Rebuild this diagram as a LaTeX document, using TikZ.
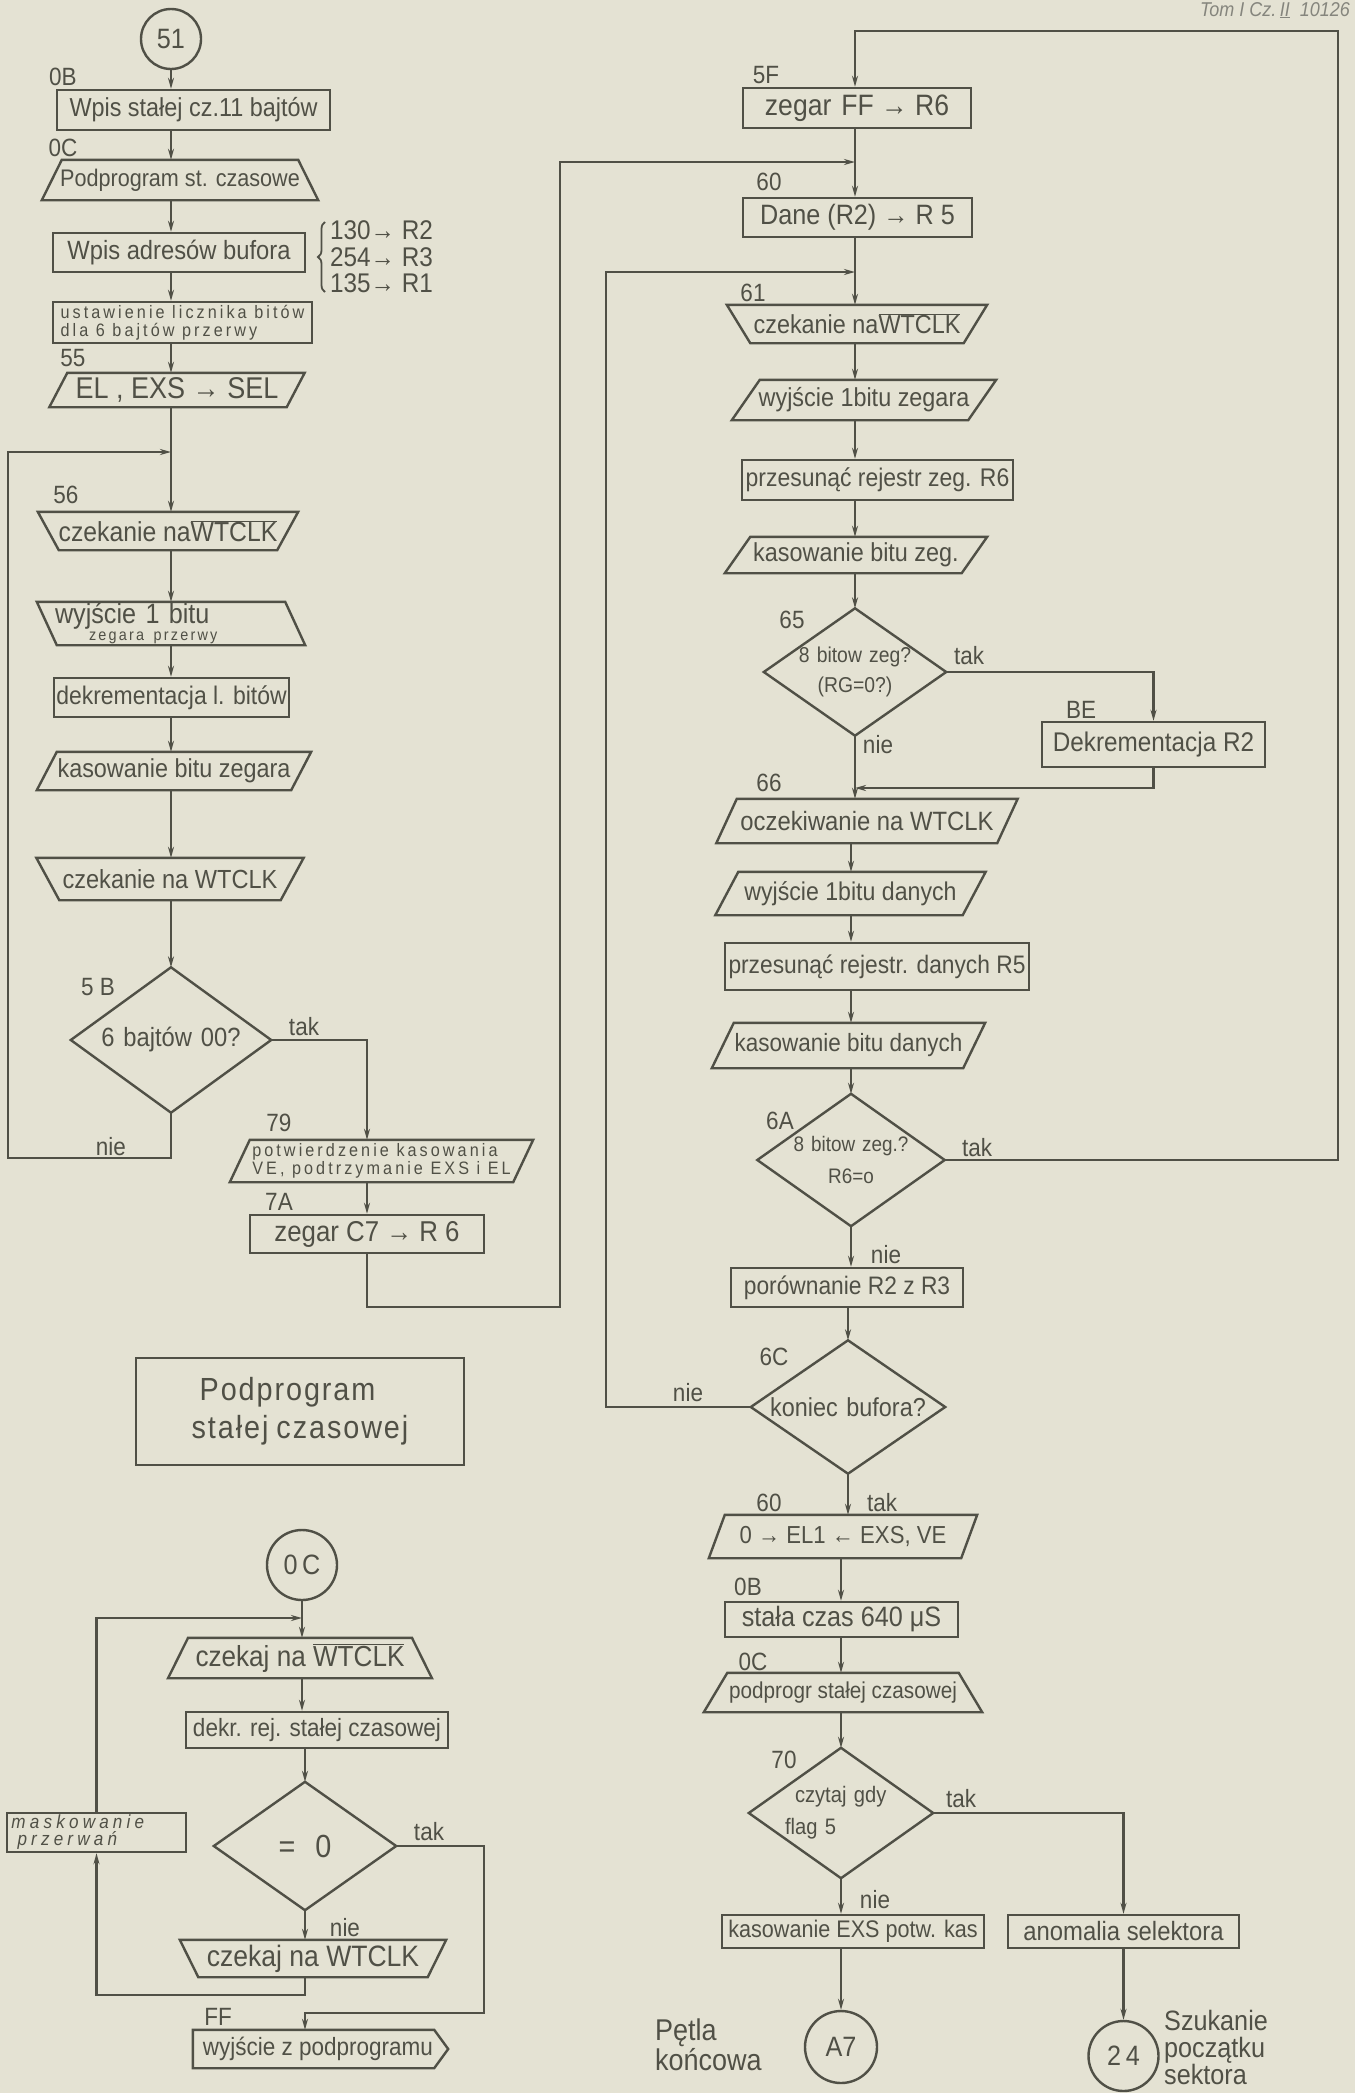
\documentclass[tikz,border=0pt]{standalone}
\usepackage{fontspec}
\setmainfont{Liberation Sans}[FakeStretch=0.9]
\usetikzlibrary{arrows.meta,decorations.pathreplacing,calc}
\definecolor{paper}{RGB}{228,226,211}
\definecolor{ink}{RGB}{80,80,70}
\newcommand\fsz[2]{\fontsize{#1}{#2}\selectfont}
\newcommand\parl[2]{\draw[ln] ([xshift=#2]#1.north west) -- ([xshift=#2]#1.north east) -- ([xshift={-1*(#2)}]#1.south east) -- ([xshift={-1*(#2)}]#1.south west) -- cycle;}
\newcommand\trpz[2]{\draw[ln] ([xshift={-1*(#2)}]#1.north west) -- ([xshift=#2]#1.north east) -- ([xshift={-1*(#2)}]#1.south east) -- ([xshift=#2]#1.south west) -- cycle;}
\newcommand\dmd[1]{\draw[ln] (#1.north) -- (#1.east) -- (#1.south) -- (#1.west) -- cycle;}
\newcommand\wt{$\overline{\mbox{WTCLK}}$}
\tikzset{
  ln/.style={draw=ink, line width=2.4pt, line join=miter},
  arr/.style={ln, -{Stealth[length=11pt,width=6pt]}},
  box/.style={draw=ink, line width=2.4pt, inner sep=1pt, align=center, text=ink},
  sh/.style={inner sep=1pt, align=center, text=ink},
  lab/.style={text=ink, font=\fsz{25}{27}, inner sep=0pt},
  circ/.style={circle, draw=ink, line width=2.4pt, inner sep=0pt, text=ink},
}
\begin{document}
\begin{tikzpicture}[x=1pt,y=-1pt]
\fill[paper] (0,0) rectangle (1355,2093);
\useasboundingbox (0,0) rectangle (1355,2093);

% ---------------- left column ----------------
\coordinate (LX) at (171,0);
\coordinate (j1) at (171,452);
\node[circ, minimum size=60, font=\fsz{28}{30}] (c51) at (171,39) {51};
\node[lab] (l0B) at (63,77) {0B};
\node[box, minimum width=273, minimum height=40, font=\fsz{26}{28}] (b1) at (193.5,110) {Wpis stałej cz.11 bajtów};
\node[lab] (l0C) at (63,148) {0C};
\node[sh, minimum width=256, minimum height=40, font=\fsz{24}{26}] (t1) at (180,180) {Podprogram st. czasowe};
\trpz{t1}{-10}
\node[box, minimum width=252, minimum height=39, font=\fsz{26.4}{28}] (b2) at (179,252.5) {Wpis adresów bufora};
\draw[ln, line width=1.8pt, decorate, decoration={brace, amplitude=7pt}] (325,292) -- (325,222);
\node[lab, font=\fsz{27}{26.5}, align=left, anchor=west] (regs) at (330,257) {130→ R2\\254→ R3\\135→ R1};
\node[box, minimum width=259, minimum height=41, font=\fsz{18}{18}\addfontfeature{LetterSpace=17}, align=left] (b3) at (182.5,322.5) {ustawienie licznika bitów\\dla 6 bajtów przerwy};
\node[lab] (l55) at (73,358) {55};
\node[sh, minimum width=237, minimum height=34, font=\fsz{30}{30}] (p1) at (177,390) {EL , EXS → SEL};
\parl{p1}{9}
\node[lab] (l56) at (66,495) {56};
\node[sh, minimum width=239, minimum height=38, font=\fsz{27.5}{28}] (t2) at (168,531) {czekanie na\wt};
\trpz{t2}{10.5}
\node[sh, minimum width=248, minimum height=43, text width=232, align=left, font=\fsz{28}{22}] (p2) at (171,623.5) {wyjście 1 bitu\\[-5pt]\hspace*{34pt}{\fsz{16}{16}\addfontfeature{LetterSpace=14}zegara przerwy}};
\parl{p2}{-10}
\node[box, minimum width=235, minimum height=39, font=\fsz{25.5}{27}] (b4) at (171.5,697.5) {dekrementacja l. bitów};
\node[sh, minimum width=254, minimum height=38, font=\fsz{26}{28}] (p3) at (174,771) {kasowanie bitu zegara};
\parl{p3}{10}
\node[sh, minimum width=244, minimum height=42, font=\fsz{26.2}{28}] (t3) at (170,879) {czekanie na WTCLK};
\trpz{t3}{11.5}
\node[sh, minimum width=200, minimum height=145, text width=170, font=\fsz{26.4}{28}] (d1) at (171,1040) {6 bajtów 00?};
\dmd{d1}
\node[lab] (l5B) at (98,987) {5 B};
\node[lab] (ltak1) at (304,1027) {tak};
\node[lab] (lnie1) at (111,1147) {nie};
\node[lab] (l79) at (279,1123) {79};
\node[sh, minimum width=283, minimum height=42, font=\fsz{18}{18}\addfontfeature{LetterSpace=17}, align=left] (p4) at (381.5,1161) {potwierdzenie kasowania\\VE, podtrzymanie EXS i EL};
\parl{p4}{10}
\node[lab] (l7A) at (279,1202) {7A};
\node[box, minimum width=234, minimum height=38, font=\fsz{28.7}{30}] (b5) at (367,1234) {zegar C7 → R 6};

\draw[arr] (c51.south) -- (c51.south |- b1.north);
\draw[arr] (b1.south -| LX) -- (t1.north -| LX);
\draw[arr] (t1.south -| LX) -- (b2.north -| LX);
\draw[arr] (b2.south -| LX) -- (b3.north -| LX);
\draw[arr] (b3.south -| LX) -- (p1.north -| LX);
\draw[arr] (p1.south -| LX) -- (t2.north -| LX);
\draw[arr] (t2.south -| LX) -- (p2.north -| LX);
\draw[arr] (p2.south -| LX) -- (b4.north -| LX);
\draw[arr] (b4.south -| LX) -- (p3.north -| LX);
\draw[arr] (p3.south -| LX) -- (t3.north -| LX);
\draw[arr] (t3.south -| LX) -- (d1.north);
\draw[arr] (d1.east) -| (b5.north |- p4.north);
\draw[arr] (p4.south -| b5.north) -- (b5.north);
\draw[arr] (d1.south) |- (8,1158) |- (j1);

% subroutine
\node[box, minimum width=328, minimum height=107, font=\fsz{32}{38}\addfontfeature{LetterSpace=6}, align=left] (b6) at (300,1411.5) {\hspace*{8pt}Podprogram\\stałej\hspace{8pt}czasowej};
\node[circ, minimum size=70, font=\fsz{28}{30}] (c0C) at (302,1565) {0\,C};
\coordinate (j4) at (302,1618);
\coordinate (yb) at (0,1995);
\node[sh, minimum width=243.5, minimum height=40, font=\fsz{29}{30}] (t4) at (300,1658) {czekaj na \wt};
\trpz{t4}{-10}
\node[box, minimum width=262, minimum height=36, font=\fsz{25}{27}] (b7) at (317,1730) {dekr. rej. stałej czasowej};
\node[sh, minimum width=182, minimum height=128, text width=130, font=\fsz{32}{34}] (d2) at (305,1846) {=\hspace{20pt}0};
\dmd{d2}
\node[lab] (ltak2) at (429,1832) {tak};
\node[lab] (lnie2) at (345,1928) {nie};
\node[sh, minimum width=247.5, minimum height=37, font=\fsz{29.5}{30}] (t5) at (313,1958.5) {czekaj na WTCLK};
\trpz{t5}{9.25}
\node[box, minimum width=179, minimum height=39, text width=170, align=left, font=\itshape\fsz{19}{17}\addfontfeature{LetterSpace=22}] (mk) at (96.5,1832.5) {maskowanie\\\hspace*{6pt}przerwań};
\node[lab] (lFF) at (218,2017) {FF};
\node[sh, minimum width=255, minimum height=38, font=\fsz{25}{27}] (ex) at (318,2049) {wyjście z podprogramu};
\draw[ln] ([xshift=2.5]ex.north west) -- ([xshift=-11.5]ex.north east) -- ([xshift=2.5]ex.east) -- ([xshift=-11.5]ex.south east) -- ([xshift=2.5]ex.south west) -- cycle;

\draw[arr] (c0C.south) -- (t4.north -| c0C.south);
\draw[arr] (t4.south -| c0C.south) -- (b7.north -| c0C.south);
\draw[arr] (b7.south -| d2.north) -- (d2.north);
\draw[arr] (d2.south) -- (t5.north -| d2.south);
\draw[arr] (d2.east) -| (484,2013) -| (ex.north -| d2.south);
\draw[arr] (t5.south -| d2.south) |- (mk.south |- yb) -- (mk.south);
\draw[arr] (mk.north) |- (j4);

% ---------------- right column ----------------
\coordinate (RX) at (855,0);
\coordinate (j2) at (855,162);
\coordinate (j3) at (855,272);
\coordinate (j5) at (855,788);
\node[lab] (l5F) at (766,75) {5F};
\node[box, minimum width=228, minimum height=40, font=\fsz{29.5}{30}] (r1) at (857,108) {zegar\hspace{10pt}FF → R6};
\node[lab] (l60a) at (769,182) {60};
\node[box, minimum width=229, minimum height=39, font=\fsz{28}{30}] (r2) at (857.5,217.5) {Dane (R2) → R 5};
\node[lab] (l61) at (753,293) {61};
\node[sh, minimum width=236.5, minimum height=38, font=\fsz{26}{28}] (rt1) at (857,324) {czekanie na\wt};
\trpz{rt1}{11.75}
\node[sh, minimum width=236, minimum height=40, font=\fsz{26}{28}] (rp1) at (864,400) {wyjście 1bitu zegara};
\parl{rp1}{14}
\node[box, minimum width=271, minimum height=40, font=\fsz{25.5}{27}] (rb1) at (877.5,480) {przesunąć rejestr zeg. R6};
\node[sh, minimum width=236.5, minimum height=36, font=\fsz{26}{28}] (rp2) at (856,555) {kasowanie bitu zeg.};
\parl{rp2}{12.75}
\node[sh, minimum width=182, minimum height=127, text width=140, font=\fsz{21.5}{30}] (rd1) at (855,672) {8 bitow zeg?\\(RG=0?)};
\dmd{rd1}
\node[lab] (l65) at (792,620) {65};
\node[lab] (ltak3) at (969,656) {tak};
\node[lab] (lnie3) at (878,745) {nie};
\node[lab] (lBE) at (1081,710) {BE};
\node[lab] (l66) at (769,783) {66};
\node[box, minimum width=223, minimum height=45, font=\fsz{27}{28}] (rb2) at (1153.5,744.5) {Dekrementacja R2};
\node[sh, minimum width=280.5, minimum height=44, font=\fsz{26.5}{28}] (rp3) at (867,821) {oczekiwanie na WTCLK};
\parl{rp3}{10.25}
\node[sh, minimum width=247, minimum height=43, font=\fsz{25.7}{27}] (rp4) at (850.5,893.5) {wyjście 1bitu danych};
\parl{rp4}{11.5}
\node[box, minimum width=304, minimum height=47, font=\fsz{25.3}{27}] (rb3) at (877,966.5) {przesunąć rejestr. danych R5};
\node[sh, minimum width=251, minimum height=45, font=\fsz{25}{27}] (rp5) at (848.5,1045.5) {kasowanie bitu danych};
\parl{rp5}{11}
\node[sh, minimum width=187, minimum height=132, text width=140, font=\fsz{21}{32}] (rd2) at (851,1160) {8 bitow zeg.?\\R6=o};
\dmd{rd2}
\node[lab] (l6A) at (780,1121) {6A};
\node[lab] (ltak4) at (977,1148) {tak};
\node[lab] (lnie4) at (886,1255) {nie};
\node[box, minimum width=232, minimum height=39, font=\fsz{25.3}{27}] (rb4) at (847,1287.5) {porównanie R2 z R3};
\node[sh, minimum width=194, minimum height=133, text width=170, font=\fsz{26}{28}] (rd3) at (848,1407) {koniec bufora?};
\dmd{rd3}
\node[lab] (l6C) at (774,1357) {6C};
\node[lab] (lnie5) at (688,1393) {nie};
\node[lab] (ltak5) at (882,1503) {tak};
\node[lab] (l60b) at (769,1503) {60};
\node[sh, minimum width=252, minimum height=43, font=\fsz{24.6}{26}] (rp6) at (843,1536.5) {0 → EL1 ← EXS, VE};
\parl{rp6}{8}
\node[lab] (l0Bb) at (748,1587) {0B};
\node[box, minimum width=233, minimum height=35, font=\fsz{28}{29}] (rb5) at (841.5,1619.5) {stała czas 640 μS};
\node[lab] (l0Cb) at (753,1662) {0C};
\node[sh, minimum width=254.5, minimum height=39, font=\fsz{23}{25}] (rt2) at (843,1692.5) {podprogr stałej czasowej};
\trpz{rt2}{-11.75}
\node[sh, minimum width=184, minimum height=130, text width=140, align=left, font=\fsz{22.4}{32}] (rd4) at (841,1813) {\hspace*{24pt}czytaj gdy\\\hspace*{14pt}flag 5};
\dmd{rd4}
\node[lab] (l70) at (784,1760) {70};
\node[lab] (ltak6) at (961,1799) {tak};
\node[lab] (lnie6) at (875,1900) {nie};
\node[box, minimum width=262, minimum height=33, font=\fsz{24}{26}] (rb6) at (853,1931.5) {kasowanie EXS potw. kas};
\node[box, minimum width=231, minimum height=33, font=\fsz{26.5}{28}] (rb7) at (1123.5,1931.5) {anomalia selektora};
\node[circ, minimum size=72, font=\fsz{28}{30}] (cA7) at (841,2047) {A7};
\node[circ, minimum size=70, font=\fsz{28}{30}] (c24) at (1123.5,2056) {2\,4};
\node[lab, font=\fsz{30}{30}, align=left, anchor=west] (tpet) at (655,2045) {Pętla\\końcowa};
\node[lab, font=\fsz{28}{27}, align=left, anchor=west] (tszu) at (1164,2047) {Szukanie\\początku\\sektora};
\node[lab, font=\itshape\fsz{20}{22}, text=ink!70, anchor=north east] (ann) at (1350,2) {Tom I Cz.\,\underline{II}\hspace{10pt}10126};

\draw[arr] (r1.south -| RX) -- (r2.north -| RX);
\draw[arr] (r2.south -| RX) -- (rt1.north -| RX);
\draw[arr] (rt1.south -| RX) -- (rp1.north -| RX);
\draw[arr] (rp1.south -| RX) -- (rb1.north -| RX);
\draw[arr] (rb1.south -| RX) -- (rp2.north -| RX);
\draw[arr] (rp2.south -| RX) -- (rd1.north);
\draw[arr] (rd1.south) -- (rp3.north -| rd1.south);
\draw[arr] (rd1.east) -| (rb2.north);
\draw[arr] (rb2.south) |- (j5);
\draw[arr] (rp3.south -| rd2.north) -- (rp4.north -| rd2.north);
\draw[arr] (rp4.south -| rd2.north) -- (rb3.north -| rd2.north);
\draw[arr] (rb3.south -| rd2.north) -- (rp5.north -| rd2.north);
\draw[arr] (rp5.south -| rd2.north) -- (rd2.north);
\draw[arr] (rd2.east) -| (1338,31) -| (r1.north -| RX);
\draw[arr] (rd2.south) -- (rd2.south |- rb4.north);
\draw[arr] (rb4.south -| rd3.north) -- (rd3.north);
\draw[arr] (rd3.west) -| (606,272) -- (j3);
\draw[arr] (b5.south) |- (560,1307) |- (j2);
\draw[arr] (rd3.south) -- (rd3.south |- rp6.north);
\draw[arr] (rp6.south -| rd4.north) -- (rb5.north -| rd4.north);
\draw[arr] (rb5.south -| rd4.north) -- (rt2.north -| rd4.north);
\draw[arr] (rt2.south -| rd4.north) -- (rd4.north);
\draw[arr] (rd4.south) -- (rd4.south |- rb6.north);
\draw[arr] (rd4.east) -| (rb7.north);
\draw[arr] (rb6.south -| cA7.north) -- (cA7.north);
\draw[arr] (rb7.south) -- (c24.north);
\end{tikzpicture}
\end{document}
